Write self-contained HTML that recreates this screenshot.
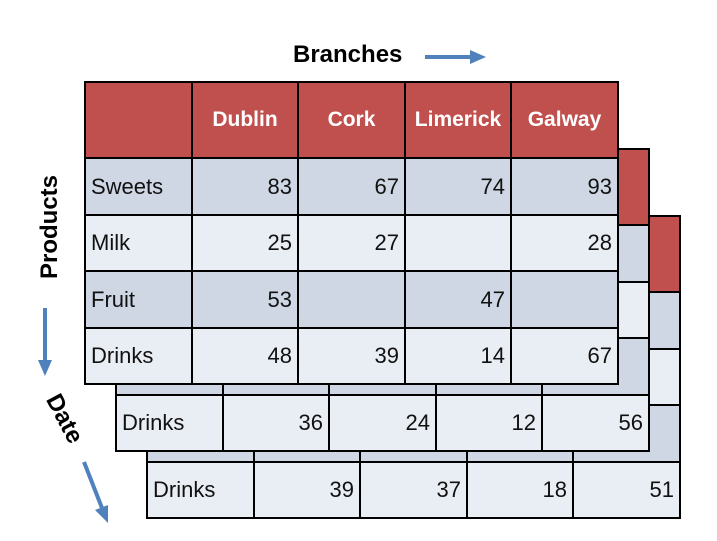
<!DOCTYPE html>
<html><head><meta charset="utf-8"><style>
body{margin:0;width:717px;height:541px;background:#fff;position:relative;overflow:hidden;font-family:"Liberation Sans",sans-serif}
.c{position:absolute;box-sizing:border-box;border:2px solid #000;font-size:22px;color:#111;display:flex;align-items:center}
.h{background:#c0504d;color:#fff;font-weight:bold;justify-content:center;font-size:21px}
.d{background:#cfd7e5}.l{background:#e9edf4}
.n{justify-content:flex-end;padding-right:5px}.t{padding-left:5px}
.lab{position:absolute;font-weight:bold;font-size:24px;color:#000}
</style></head><body>
<div class="lab" style="left:293px;top:41px">Branches</div>
<div class="lab" style="left:0px;top:215px;width:100px;text-align:center;transform:rotate(-90deg)">Products</div>
<div class="lab" style="left:38px;top:405px;transform:rotate(62deg)">Date</div>
<svg width="717" height="541" style="position:absolute;left:0;top:0">
<g fill="#4f81bd" stroke="#4f81bd">
<line x1="425" y1="57" x2="472" y2="57" stroke-width="4"/><polygon points="470,50 486,57 470,64" stroke="none"/>
<line x1="45" y1="308" x2="45" y2="362" stroke-width="4"/><polygon points="38,360 45,376 52,360" stroke="none"/>
<line x1="84" y1="462" x2="102" y2="508" stroke-width="4"/><polygon points="95,510 108,523 108,505" stroke="none"/>
</g></svg>
<div id="root"></div>
<script>
const branches=["Dublin","Cork","Limerick","Galway"];
const products=["Sweets","Milk","Fruit","Drinks"];
const layer1=[[83,67,74,93],[25,27,null,28],[53,null,47,null],[48,39,14,67]];
const layer2=[[null,null,null,null],[null,null,null,null],[null,null,null,null],[36,24,12,56]];
const layer3=[[null,null,null,null],[null,null,null,null],[null,null,null,null],[39,37,18,51]];
const layers=[layer3,layer2,layer1];
const colX=[0,107,213,320,426,533];
const rowY=[0,76,133,189,246,302];
const root=document.getElementById('root');
function cell(x,y,w,h,cls,txt){const d=document.createElement('div');d.className='c '+cls;d.style.left=x+'px';d.style.top=y+'px';d.style.width=(w+2)+'px';d.style.height=(h+2)+'px';if(txt!=null)d.textContent=txt;root.appendChild(d);return d;}
layers.forEach((data,li)=>{
  const k=2-li, ox=84+31*k, oy=81+67*k;
  for(let c=0;c<5;c++){
    const h=cell(ox+colX[c],oy,colX[c+1]-colX[c],rowY[1],'h',(c&&k===0)?branches[c-1]:null);
    
    
  }
  for(let r=0;r<4;r++){
    const shade=r%2?'l':'d';
    for(let c=0;c<5;c++){
      const v=c?data[r][c-1]:products[r];
      const e=cell(ox+colX[c],oy+rowY[r+1],colX[c+1]-colX[c],rowY[r+2]-rowY[r+1],shade+(c?' n':' t'),v);
      
      
    }
  }
});
</script>
</body></html>
